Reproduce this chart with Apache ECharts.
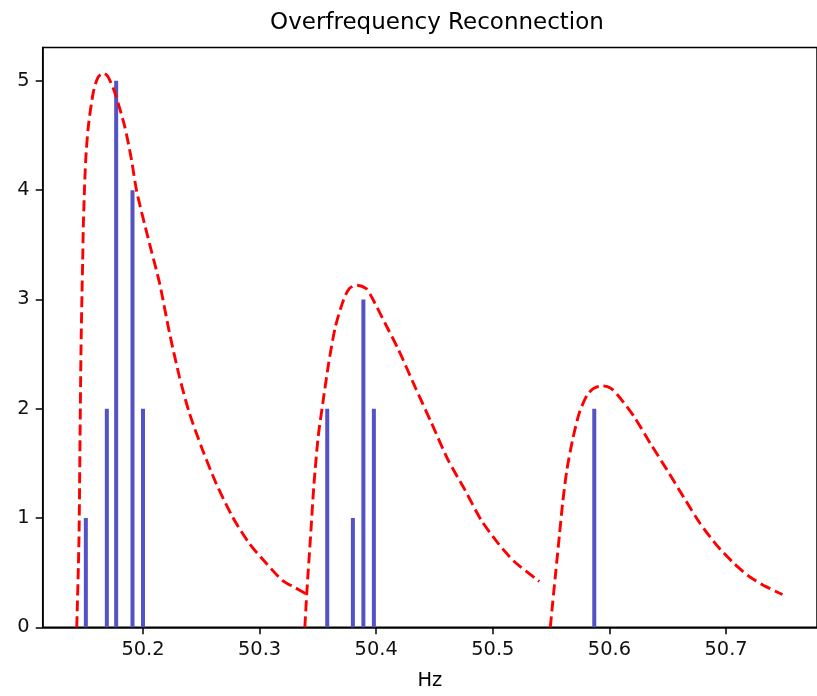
<!DOCTYPE html>
<html>
<head>
<meta charset="utf-8">
<script src="https://cdn.jsdelivr.net/npm/echarts@6/dist/echarts.min.js"></script>
<style>
html,body{margin:0;padding:0;background:#fff;}
#chart{width:817px;height:696px;}
</style>
</head>
<body>
<div id="chart"></div>
<script>
// Histogram bars (frequency in Hz, count)
var barHz    = [50.151, 50.169, 50.177, 50.191, 50.200, 50.358, 50.380, 50.389, 50.398, 50.587];
var barCount = [1, 2, 5, 4, 2, 2, 1, 3, 2, 2];

// Fitted curves: [Hz, value]
var curve1 = [
  [50.1432, 0.00], [50.1451, 0.80], [50.1460, 1.71], [50.1468, 2.51], [50.1477, 3.06],
  [50.1483, 3.36], [50.1488, 3.66], [50.1497, 3.97], [50.1509, 4.28], [50.1531, 4.58],
  [50.1573, 4.89], [50.1613, 5.03], [50.1659, 5.07], [50.1699, 5.04], [50.1759, 4.89],
  [50.1844, 4.58], [50.1901, 4.28], [50.1946, 3.99], [50.2044, 3.56], [50.2142, 3.15],
  [50.2228, 2.69], [50.2313, 2.29], [50.2398, 1.96], [50.2512, 1.62], [50.2626, 1.32],
  [50.2768, 1.01], [50.2910, 0.77], [50.3053, 0.59], [50.3195, 0.43], [50.3309, 0.36],
  [50.3394, 0.31], [50.3431, 0.29]
];
var curve2 = [
  [50.3388, 0.00], [50.3408, 0.37], [50.3437, 0.83], [50.3465, 1.29], [50.3502, 1.74],
  [50.3542, 2.05], [50.3593, 2.42], [50.3650, 2.75], [50.3721, 3.00], [50.3770, 3.10],
  [50.3834, 3.13], [50.3912, 3.10], [50.3962, 3.02], [50.4077, 2.78], [50.4191, 2.54],
  [50.4333, 2.20], [50.4474, 1.87], [50.4617, 1.53], [50.4759, 1.26], [50.4901, 0.98],
  [50.5044, 0.77], [50.5186, 0.60], [50.5385, 0.43], [50.5399, 0.42]
];
var curve3 = [
  [50.5493, 0.00], [50.5513, 0.22], [50.5541, 0.52], [50.5570, 0.83], [50.5598, 1.13],
  [50.5635, 1.44], [50.5683, 1.71], [50.5741, 1.96], [50.5811, 2.13], [50.5871, 2.19],
  [50.5939, 2.21], [50.6008, 2.19], [50.6067, 2.13], [50.6210, 1.93], [50.6352, 1.68],
  [50.6494, 1.44], [50.6637, 1.19], [50.6778, 0.95], [50.6921, 0.75], [50.7063, 0.59],
  [50.7205, 0.46], [50.7347, 0.37], [50.7484, 0.30]
];

// Tick labels
var xTicks = [50.2, 50.3, 50.4, 50.5, 50.6, 50.7];
var yTicks = [0, 1, 2, 3, 4, 5];

var titleText = 'Overfrequency Reconnection';
var xName = 'Hz';

var FONT = 'DejaVu Sans';
var chart = echarts.init(document.getElementById('chart'), null, {renderer: 'canvas'});

var barData = barHz.map(function (x, i) { return [x, barCount[i]]; });

function curveSeries(data) {
  return {
    type: 'line',
    data: data,
    showSymbol: false,
    symbol: 'none',
    smooth: 0.25,
    z: 5,
    animation: false,
    lineStyle: { color: '#ff0000', width: 2.9, type: [11, 5] }
  };
}

var axisCommon = {
  axisLine: { show: true, onZero: false, lineStyle: { color: '#000', width: 1.5 } },
  axisTick: { show: true, inside: false, length: 7, lineStyle: { color: '#000', width: 1.5 } },
  splitLine: { show: false }
};

chart.setOption({
  animation: false,
  backgroundColor: '#fff',
  title: {
    text: titleText,
    left: 432,
    top: 7,
    textAlign: 'center',
    textStyle: { fontFamily: FONT, fontSize: 23, fontWeight: 'normal', color: '#000' }
  },
  grid: {
    left: 42.7, top: 47.5, right: -4, bottom: 68.7,
    show: true, borderColor: '#000', borderWidth: 1.5, backgroundColor: 'transparent'
  },
  xAxis: Object.assign({}, axisCommon, {
    type: 'value',
    min: 50.114,
    max: 50.778,
    name: xName,
    nameLocation: 'middle',
    nameGap: 44,
    nameTextStyle: { fontFamily: FONT, fontSize: 19.4, color: '#000' },
    axisTick: Object.assign({}, axisCommon.axisTick, { customValues: xTicks }),
    axisLabel: {
      customValues: xTicks,
      margin: 13,
      fontFamily: FONT, fontSize: 19.4, color: '#111',
      formatter: function (v) { return v.toFixed(1); }
    }
  }),
  yAxis: Object.assign({}, axisCommon, {
    type: 'value',
    min: 0,
    max: 5.305,
    axisTick: Object.assign({}, axisCommon.axisTick, { customValues: yTicks }),
    axisLabel: {
      customValues: yTicks,
      margin: 13,
      fontFamily: FONT, fontSize: 19.4, color: '#111',
      formatter: function (v) { return String(v); }
    }
  }),
  series: [
    {
      type: 'bar',
      data: barData,
      barWidth: 4,
      z: 2,
      itemStyle: { color: '#5353c6' }
    },
    curveSeries(curve1),
    curveSeries(curve2),
    curveSeries(curve3)
  ]
});
</script>
</body>
</html>
